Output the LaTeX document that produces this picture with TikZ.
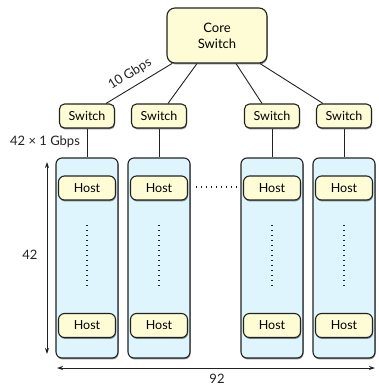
\documentclass[tikz,border=0pt]{standalone}
\usepackage{fontspec}
\setmainfont{Lato}
\usetikzlibrary{shadows,arrows.meta,calc}
\definecolor{cream}{HTML}{FDFCD4}
\definecolor{rackblue}{HTML}{DFF5FD}
\definecolor{edge}{HTML}{222222}
\tikzset{
  boxshadow/.style={drop shadow={shadow xshift=0.6pt,shadow yshift=-1.4pt,opacity=0.45,fill=black}},
  corebox/.style={draw=edge,line width=1.1pt,fill=cream,rounded corners=8pt,minimum width=100pt,minimum height=55pt,align=center,boxshadow,font=\fontsize{13}{16}\selectfont,inner sep=0pt},
  switchbox/.style={draw=edge,line width=1.1pt,fill=cream,rounded corners=5pt,minimum width=55pt,minimum height=24pt,boxshadow,font=\fontsize{12.5}{14}\selectfont,inner sep=0pt},
  rackbox/.style={draw=edge,line width=1.1pt,fill=rackblue,rounded corners=6pt,minimum width=62pt,minimum height=200pt,boxshadow,inner sep=0pt},
  hostbox/.style={draw=edge,line width=1.1pt,fill=cream,rounded corners=6pt,minimum width=57pt,minimum height=24pt,boxshadow,font=\fontsize{12.5}{14}\selectfont,inner sep=0pt},
  link/.style={draw=edge,line width=0.9pt},
  dots/.style={draw=edge,line width=1.4pt,dash pattern=on 1.4pt off 3.6pt},
  dim/.style={draw=edge,line width=0.9pt,{Stealth[length=6pt,width=4pt]}-{Stealth[length=6pt,width=4pt]}},
  lbl/.style={font=\fontsize{13}{15}\selectfont,text=edge,inner sep=0pt},
}
\begin{document}
\begin{tikzpicture}[x=1pt,y=-1pt]
\useasboundingbox (0,0) rectangle (378,388);
% racks
\foreach \n/\x in {1/87,2/159,3/272,4/344}{
  \node[rackbox] (r\n) at (\x,258) {};
}
\foreach \n/\x in {1/87,2/159,3/272,4/344}{
  \node[hostbox] (ht\n) at (\x,188) {Host};
  \node[hostbox] (hb\n) at (\x,325.5) {Host};
  \coordinate (dt\n) at (\x,225);
  \coordinate (db\n) at (\x,287);
  \draw[dots] (dt\n) -- (db\n);
}
% core and switches
\node[corebox] (core) at (217,35.5) {Core\\Switch};
\foreach \n/\x in {1/87,2/159,3/272,4/344}{
  \node[switchbox] (s\n) at (\x,116) {Switch};
  \draw[link] (s\n.south) -- (r\n.north);
}
\draw[link] ([xshift=-45pt]core.south) -- ([xshift=19pt]s1.north);
\draw[link] ([xshift=-20pt]core.south) -- ([xshift=9pt]s2.north);
\draw[link] ([xshift=19pt]core.south) -- ([xshift=-10pt]s3.north);
\draw[link] ([xshift=43pt]core.south) -- ([xshift=-21pt]s4.north);
% horizontal dots
\coordinate (hl) at (196,187);
\coordinate (hr) at (238,187);
\draw[dots] (hl) -- (hr);
% labels
\node[lbl,rotate=32] (gb10) at (130,74) {10 Gbps};
\node[lbl] (gb1) at (45,142) {42 × 1 Gbps};
% dimension arrows
\coordinate (vt) at (47,162);
\coordinate (vb) at (47,354);
\draw[dim] (vt) -- (vb);
\node[lbl] (n42) at (30,255) {42};
\coordinate (hl2) at (57,368);
\coordinate (hr2) at (375,368);
\draw[dim] (hl2) -- (hr2);
\node[lbl] (n92) at (217,379) {92};
\end{tikzpicture}
\end{document}
